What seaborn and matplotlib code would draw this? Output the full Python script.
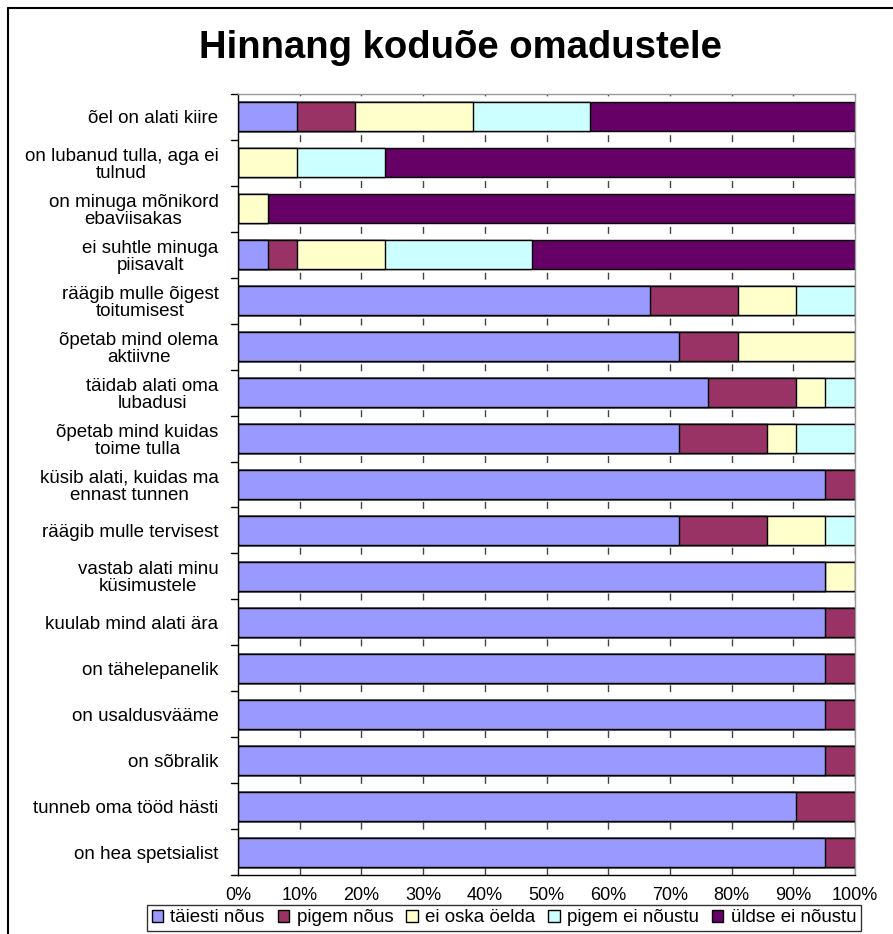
import numpy as np
import pandas as pd
import matplotlib
matplotlib.use('Agg')
import matplotlib.pyplot as plt
import seaborn as sns
from matplotlib.patches import Patch
from matplotlib.lines import Line2D

# statements (top to bottom)
statements = [
    'õel on alati kiire',
    'on lubanud tulla, aga ei\ntulnud',
    'on minuga mõnikord\nebaviisakas',
    'ei suhtle minuga\npiisavalt',
    'räägib mulle õigest\ntoitumisest',
    'õpetab mind olema\naktiivne',
    'täidab alati oma\nlubadusi',
    'õpetab mind kuidas\ntoime tulla',
    'küsib alati, kuidas ma\nennast tunnen',
    'räägib mulle tervisest',
    'vastab alati minu\nküsimustele',
    'kuulab mind alati ära',
    'on tähelepanelik',
    'on usaldusvääme',
    'on sõbralik',
    'tunneb oma tööd hästi',
    'on hea spetsialist',
]

categories = ['täiesti nõus', 'pigem nõus', 'ei oska öelda', 'pigem ei nõustu', 'üldse ei nõustu']

# shares in percent
taiesti   = [9.5, 0.0, 0.0, 4.8, 66.7, 71.4, 76.2, 71.4, 95.2, 71.4, 95.2, 95.2, 95.2, 95.2, 95.2, 90.5, 95.2]
pigem     = [9.5, 0.0, 0.0, 4.8, 14.3, 9.5, 14.3, 14.3, 4.8, 14.3, 0.0, 4.8, 4.8, 4.8, 4.8, 9.5, 4.8]
ei_oska   = [19.0, 9.5, 4.8, 14.3, 9.5, 19.0, 4.8, 4.8, 0.0, 9.5, 4.8, 0.0, 0.0, 0.0, 0.0, 0.0, 0.0]
pigem_ei  = [19.0, 14.3, 0.0, 23.8, 9.5, 0.0, 4.8, 9.5, 0.0, 4.8, 0.0, 0.0, 0.0, 0.0, 0.0, 0.0, 0.0]
uldse_ei  = [42.9, 76.2, 95.2, 52.4, 0.0, 0.0, 0.0, 0.0, 0.0, 0.0, 0.0, 0.0, 0.0, 0.0, 0.0, 0.0, 0.0]

colors = ['#9999FF', '#993366', '#FFFFCC', '#CCFFFF', '#660066']

df = pd.DataFrame({'statement': statements,
                   categories[0]: taiesti,
                   categories[1]: pigem,
                   categories[2]: ei_oska,
                   categories[3]: pigem_ei,
                   categories[4]: uldse_ei})
vals = df[categories]
# normalise to 100%
vals = vals.div(vals.sum(axis=1), axis=0) * 100
cum = vals.cumsum(axis=1)
cum['statement'] = df['statement']

sns.set_theme(style='white')
plt.rcParams['font.family'] = ['Liberation Sans', 'DejaVu Sans']
plt.rcParams.update({'text.color': 'black', 'axes.labelcolor': 'black',
                     'xtick.color': 'black', 'ytick.color': 'black'})

fig = plt.figure(figsize=(8.93, 9.34), dpi=100)
ax = fig.add_axes([238/893, 1 - 875/934, (855-238)/893, (875-94)/934])

# draw cumulative bars from the last category to the first so they stack
for cat, col in reversed(list(zip(categories, colors))):
    sns.barplot(data=cum, x=cat, y='statement', orient='h', color=col,
                edgecolor='black', linewidth=1.0, width=0.63, ax=ax,
                order=statements, saturation=1)

ax.set_xlim(0, 100)
ax.set_ylim(len(statements) - 0.5, -0.5)
ax.set_xticks(np.arange(0, 101, 10))
ax.set_xticklabels([f'{v}%' for v in range(0, 101, 10)], fontsize=13)
ax.set_xlabel('')
ax.set_ylabel('')
ax.set_yticks(range(len(statements)))
ax.set_yticklabels(statements, fontsize=13.5, multialignment='center', linespacing=1.0)
ax.tick_params(axis='y', length=0, pad=14)
ax.tick_params(axis='x', length=5, width=1, color='black', direction='out', pad=4)

# category boundary ticks on the y axis
for b in np.arange(-0.5, len(statements), 1):
    ax.add_line(Line2D([-0.012, 0], [b, b], transform=ax.get_yaxis_transform(),
                       color='black', lw=1, clip_on=False))

for x in range(10, 101, 10):
    ax.axvline(x, color='#444444', lw=1, ls=(0, (5, 6)), zorder=0)

ax.spines['left'].set_color('black')
ax.spines['bottom'].set_color('black')
ax.spines['top'].set_color('#999999')
ax.spines['right'].set_color('#999999')
for s in ax.spines.values():
    s.set_linewidth(1)

fig.text(460/893, 1 - 48/934, 'Hinnang koduõe omadustele', ha='center', va='center',
         fontsize=27.5, fontweight='bold', family=['Liberation Sans', 'DejaVu Sans'])

handles = [Patch(facecolor=c, edgecolor='black', lw=1) for c in colors]
leg = fig.legend(handles, categories, loc='center', bbox_to_anchor=(504/893, 1 - 918/934),
                 ncol=5, frameon=True, fancybox=False, edgecolor='black', fontsize=13.5,
                 handlelength=0.6, handleheight=0.6, handletextpad=0.4, columnspacing=0.7,
                 borderpad=0.25, borderaxespad=0)
leg.get_frame().set_linewidth(1)

# outer chart border
fig.add_artist(Line2D([8/893, 8/893], [0, 1 - 8/934], transform=fig.transFigure, color='black', lw=1.5))
fig.add_artist(Line2D([8/893, 1], [1 - 8/934, 1 - 8/934], transform=fig.transFigure, color='black', lw=1.5))

fig.savefig('out.png', dpi=100)
